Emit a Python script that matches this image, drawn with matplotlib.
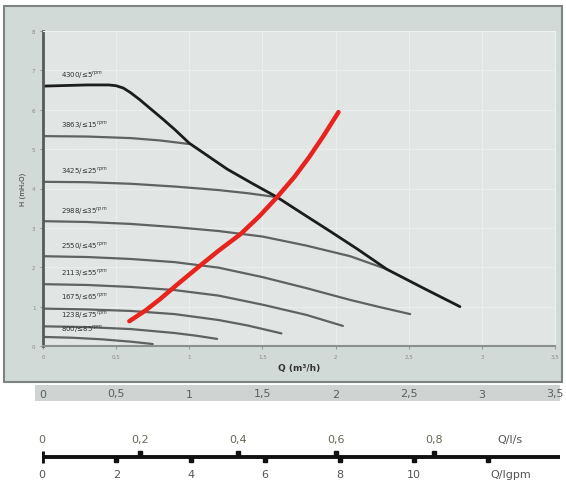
import numpy as np
import matplotlib
matplotlib.use("Agg")
import matplotlib.pyplot as plt
from matplotlib.patches import Rectangle

W, H = 566, 485

# pump curves: flow Q (m3/h) and head H (mH2O), one pair per speed
speed_labels = ["4300/≤5", "3863/≤15", "3425/≤25", "2988/≤35", "2550/≤45",
                "2113/≤55", "1675/≤65", "1238/≤75", "800/≤85"]
label_h = [6.9, 5.62, 4.45, 3.45, 2.55, 1.87, 1.25, 0.8, 0.45]

q_4300 = [0, 0.3, 0.45, 0.5, 0.55, 0.6, 0.66, 0.74, 0.82, 0.9, 1.0, 1.13, 1.26,
          1.43, 1.6, 1.8, 1.96, 2.15, 2.35, 2.6, 2.85]
h_4300 = [6.6, 6.63, 6.63, 6.61, 6.55, 6.43, 6.26, 6.01, 5.76, 5.5, 5.15, 4.82, 4.49,
          4.13, 3.78, 3.3, 2.92, 2.46, 1.95, 1.47, 1.0]
q_3863 = [0, 0.3, 0.6, 0.8, 1.0]
h_3863 = [5.33, 5.32, 5.28, 5.22, 5.13]
q_3425 = [0, 0.3, 0.6, 0.9, 1.2, 1.4, 1.6]
h_3425 = [4.17, 4.16, 4.12, 4.05, 3.96, 3.88, 3.78]
q_2988 = [0, 0.3, 0.6, 0.9, 1.2, 1.5, 1.8, 2.1, 2.35]
h_2988 = [3.17, 3.15, 3.1, 3.02, 2.92, 2.78, 2.55, 2.28, 1.95]
q_2550 = [0, 0.3, 0.6, 0.9, 1.2, 1.5, 1.8, 2.1, 2.3, 2.51]
h_2550 = [2.28, 2.26, 2.21, 2.13, 1.99, 1.75, 1.47, 1.17, 0.99, 0.81]
q_2113 = [0, 0.3, 0.6, 0.9, 1.2, 1.5, 1.8, 2.05]
h_2113 = [1.57, 1.55, 1.5, 1.42, 1.28, 1.05, 0.79, 0.51]
q_1675 = [0, 0.3, 0.6, 0.9, 1.2, 1.4, 1.63]
h_1675 = [0.95, 0.93, 0.89, 0.81, 0.66, 0.52, 0.32]
q_1238 = [0, 0.3, 0.6, 0.9, 1.05, 1.19]
h_1238 = [0.5, 0.48, 0.43, 0.33, 0.26, 0.18]
q_800 = [0, 0.2, 0.4, 0.6, 0.75]
h_800 = [0.23, 0.21, 0.17, 0.11, 0.05]

# system curve (red)
q_sys = [0.59, 0.7, 0.8, 0.93, 1.07, 1.2, 1.35, 1.48, 1.6, 1.72, 1.82, 1.92, 2.02]
h_sys = [0.63, 0.9, 1.19, 1.6, 2.03, 2.42, 2.84, 3.3, 3.78, 4.3, 4.8, 5.35, 5.94]

q_ticks = [0, 0.5, 1, 1.5, 2, 2.5, 3, 3.5]
q_tick_labels = ["0", "0,5", "1", "1,5", "2", "2,5", "3", "3,5"]
ls_ticks = [0, 0.2, 0.4, 0.6, 0.8]
ls_labels = ["0", "0,2", "0,4", "0,6", "0,8"]
gpm_ticks = [0, 2, 4, 6, 8, 10, 12]
gpm_labels = ["0", "2", "4", "6", "8", "10", ""]


def box(x0, y0, x1, y1):
    return [x0 / W, 1 - y1 / H, (x1 - x0) / W, (y1 - y0) / H]


fig = plt.figure(figsize=(W / 100, H / 100), dpi=100)
fig.patch.set_facecolor("white")

# grey panel behind the chart
fig.add_artist(Rectangle((4 / W, 1 - 383 / H), 558 / W, 376 / H, zorder=-5,
                         transform=fig.transFigure, fc="#d2dad8", ec="#7d8382", lw=1.5))
# grey strip with the m3/h numbers
fig.add_artist(Rectangle((35 / W, 1 - 402 / H), 525 / W, 16 / H, zorder=-5,
                         transform=fig.transFigure, fc="#cfd4d3", ec="none"))

ax = fig.add_axes(box(43, 32, 555, 347))
ax.set_facecolor("#e1e6e5")
ax.set_xlim(0, 3.5)
ax.set_ylim(0, 8)
ax.set_xticks(q_ticks)
ax.set_xticklabels(q_tick_labels)
ax.set_yticks(range(0, 9))
ax.tick_params(labelsize=4, colors="#888888", length=2, width=0.6)
ax.grid(True, color="#ebefef", lw=0.7)
for s in ["top", "right"]:
    ax.spines[s].set_color("#eef1f1")
ax.spines["left"].set_color("#555a5a")
ax.spines["left"].set_linewidth(2)
ax.spines["bottom"].set_color("#8a8f8f")
ax.spines["bottom"].set_linewidth(1.5)

curves = [(q_3863, h_3863), (q_3425, h_3425), (q_2988, h_2988), (q_2550, h_2550),
          (q_2113, h_2113), (q_1675, h_1675), (q_1238, h_1238), (q_800, h_800)]
for q, h in curves:
    ax.plot(q, h, color="#4a4a4a", lw=1.6, alpha=0.85, solid_capstyle="round",
            solid_joinstyle="round")
ax.plot(q_4300, h_4300, color="#1c1c1c", lw=2.0, solid_capstyle="round",
        solid_joinstyle="round")
ax.plot(q_sys, h_sys, color="#e8221c", lw=3.2, solid_capstyle="round",
        solid_joinstyle="round")

for lab, y in zip(speed_labels, label_h):
    ax.text(0.12, y, lab + r"$^{rpm}$", fontsize=5, color="#333333", va="center")

ax.set_xlabel("Q (m³/h)", fontsize=6.5, fontweight="bold", color="#333333", labelpad=3)
ax.set_ylabel("H (mH₂O)", fontsize=5, color="#333333", labelpad=4)

# m3/h numbers in the strip under the panel
ax_band = fig.add_axes(box(43, 387, 555, 402))
ax_band.set_xlim(0, 3.5)
ax_band.set_ylim(0, 1)
ax_band.axis("off")
for t, lab in zip(q_ticks, q_tick_labels):
    ax_band.text(t, 0.5, lab, fontsize=8, color="#5b5f5f", ha="center", va="center")

# l/s and igpm scale
ax_ls = fig.add_axes(box(42, 430, 560, 485))
ax_ls.set_xlim(0, 518 / 98 * 0.2)
ax_ls.set_ylim(-1, 1)
ax_ls.axis("off")
ax_ls.plot([0, 518 / 98 * 0.2], [0, 0], color="#111111", lw=2.8, solid_capstyle="butt")
ax_ls.plot([0], [0], marker="|", ms=9, mew=3.5, color="#111111")
ax_ls.plot(ls_ticks[1:], [0.12] * 4, ls="none", marker="s", ms=3, color="#111111")
for t, lab in zip(ls_ticks, ls_labels):
    ax_ls.text(t, 0.62, lab, fontsize=8, color="#6a6658", ha="center", va="center")
ax_ls.text(0.955, 0.62, "Q/l/s", fontsize=8, color="#555555", ha="center", va="center")

ax_g = fig.add_axes(box(42, 430, 560, 485))
ax_g.set_xlim(0, 518 / 74.4 * 2)
ax_g.set_ylim(-1, 1)
ax_g.axis("off")
ax_g.plot(gpm_ticks[1:], [-0.12] * 6, ls="none", marker="s", ms=3, color="#111111")
for t, lab in zip(gpm_ticks, gpm_labels):
    ax_g.text(t, -0.62, lab, fontsize=8, color="#555555", ha="center", va="center")
ax_g.text(12.6, -0.62, "Q/Igpm", fontsize=8, color="#555555", ha="center", va="center")

fig.savefig("out.png", dpi=100)
